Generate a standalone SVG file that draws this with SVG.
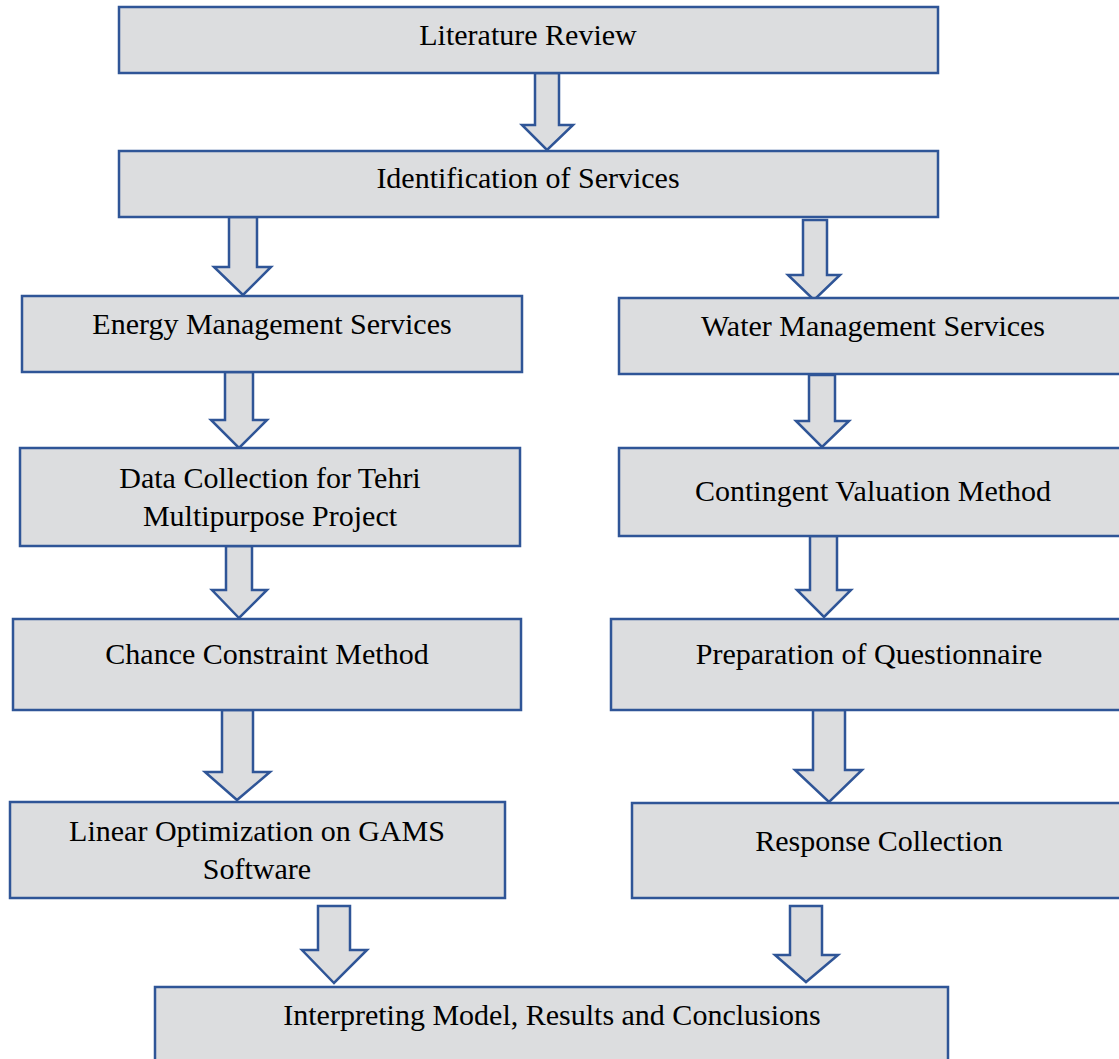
<svg xmlns="http://www.w3.org/2000/svg" width="1119" height="1059" viewBox="0 0 1119 1059">
<style>
.box{fill:#DCDDDF;stroke:#2F5597;stroke-width:2.5}
.arr{fill:#DCDDDF;stroke:#2F5597;stroke-width:2.5;stroke-linejoin:miter}
text{font-family:"Liberation Serif","Times New Roman",serif;font-size:30px;fill:#000;text-anchor:middle}
</style>
<rect width="1119" height="1059" fill="#fff"/>
<g id="connectors">
<polygon class="arr" points="535,73 559,73 559,125 573,125 547,150 522,125 535,125"/>
<polygon class="arr" points="229,217 257,217 257,267 271,267 243,295 214,267 229,267"/>
<polygon class="arr" points="803,220 827,220 827,275 840,275 814,300 788,275 803,275"/>
<polygon class="arr" points="225,372 253,372 253,420 267,420 239,448 211,420 225,420"/>
<polygon class="arr" points="809,375 835,375 835,421 849,421 822,447 796,421 809,421"/>
<polygon class="arr" points="226,546 252,546 252,590 267,590 239,618 212,590 226,590"/>
<polygon class="arr" points="810,536 837,536 837,590 851,590 824,617 797,590 810,590"/>
<polygon class="arr" points="222,710 253,710 253,772 270,772 237,800 205,772 222,772"/>
<polygon class="arr" points="813,710 845,710 845,770 862,770 829,802 795,770 813,770"/>
<polygon class="arr" points="318,906 350,906 350,950 367,950 334,983 302,950 318,950"/>
<polygon class="arr" points="790,906 822,906 822,955 838,955 806,982 775,955 790,955"/>
</g>
<g id="n1"><rect class="box" x="119" y="7" width="819" height="66"/><text x="528" y="45">Literature Review</text></g>
<g id="n2"><rect class="box" x="119" y="151" width="819" height="66"/><text x="528" y="188">Identification of Services</text></g>
<g id="n3"><rect class="box" x="22" y="296" width="500" height="76"/><text x="272" y="334">Energy Management Services</text></g>
<g id="n4"><rect class="box" x="619" y="298" width="510" height="76"/><text x="873" y="336">Water Management Services</text></g>
<g id="n5"><rect class="box" x="20" y="448" width="500" height="98"/><text x="270" y="488">Data Collection for Tehri</text><text x="270" y="526">Multipurpose Project</text></g>
<g id="n6"><rect class="box" x="619" y="448" width="510" height="88"/><text x="873" y="501">Contingent Valuation Method</text></g>
<g id="n7"><rect class="box" x="13" y="619" width="508" height="91"/><text x="267" y="664">Chance Constraint Method</text></g>
<g id="n8"><rect class="box" x="611" y="619" width="518" height="91"/><text x="869" y="664">Preparation of Questionnaire</text></g>
<g id="n9"><rect class="box" x="10" y="802" width="495" height="96"/><text x="257" y="841">Linear Optimization on GAMS</text><text x="257" y="879">Software</text></g>
<g id="n10"><rect class="box" x="632" y="803" width="497" height="95"/><text x="879" y="851">Response Collection</text></g>
<g id="n11"><rect class="box" x="155" y="987" width="793" height="82"/><text x="552" y="1025">Interpreting Model, Results and Conclusions</text></g>
</svg>
